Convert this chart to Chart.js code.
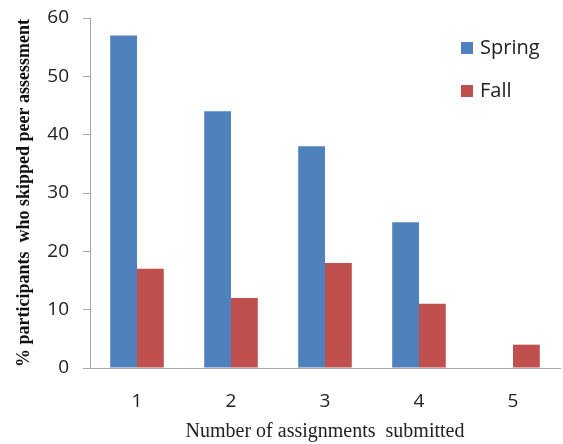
<!DOCTYPE html>
<html>
<head>
<meta charset="utf-8">
<script src="https://cdn.jsdelivr.net/npm/chart.js@4.4.0/dist/chart.umd.min.js"></script>
<style>
  html, body { margin: 0; padding: 0; background: #fff; }
  #wrap { width: 563px; height: 444px; }
</style>
</head>
<body>
<div id="wrap"><canvas id="myChart"></canvas></div>
<script>
const categories = ['1', '2', '3', '4', '5'];
const springValues = [57, 44, 38, 25, null];
const fallValues = [17, 12, 18, 11, 4];
const yTicks = [0, 10, 20, 30, 40, 50, 60];

const tickFont = { family: 'Open Sans', size: 19, lineHeight: 1 };

// legend drawn inside the plot, top right
const sideLegend = {
    id: 'sideLegend',
    afterDraw(chart) {
        const ctx = chart.ctx;
        ctx.save();
        ctx.font = '20px "Open Sans"';
        ctx.textBaseline = 'middle';
        chart.data.datasets.forEach((ds, i) => {
            const y = 48 + i * 43;
            ctx.fillStyle = ds.backgroundColor;
            ctx.fillRect(461, y - 6, 12, 12);
            ctx.fillStyle = '#222';
            ctx.fillText(ds.label, 480, y);
        });
        ctx.restore();
    }
};

const canvasContext = document.getElementById('myChart').getContext('2d');

const myChart = new Chart(canvasContext, {
    type: 'bar',
    data: {
        labels: categories,
        datasets: [
            {
                label: 'Spring',
                data: springValues,
                backgroundColor: '#4F81BD',
            },
            {
                label: 'Fall',
                data: fallValues,
                backgroundColor: '#C0504D',
            }
        ],
    },
    options: {
        responsive: true,
        maintainAspectRatio: false,
        animation: false,
        layout: { padding: { top: 18, right: 3, left: 14, bottom: 0 } },
        datasets: {
            bar: { categoryPercentage: 0.57, barPercentage: 1.0 }
        },
        plugins: {
            legend: { display: false },
            tooltip: { enabled: false }
        },
        scales: {
            x: {
                grid: { display: false },
                border: { color: '#A6A6A6', width: 1 },
                ticks: { color: '#222', font: tickFont, padding: 16 },
                title: {
                    display: true,
                    text: 'Number of assignments  submitted',
                    color: '#222',
                    font: { family: 'Liberation Serif', size: 20 },
                    padding: { top: 4, bottom: 0 }
                },
                afterFit(scale) { scale.height = 76; }
            },
            y: {
                min: 0,
                max: 60,
                afterBuildTicks(scale) {
                    scale.ticks = yTicks.map(v => ({ value: v }));
                },
                grid: {
                    drawOnChartArea: false,
                    color: '#A6A6A6',
                    tickLength: 7,
                },
                border: { color: '#A6A6A6', width: 1 },
                ticks: { color: '#222', font: tickFont, padding: 14 },
                title: {
                    display: true,
                    text: '% participants  who skipped peer assessment',
                    color: '#111',
                    font: { family: 'Liberation Serif', size: 18, weight: 'bold' },
                    padding: { top: 0, bottom: 8 }
                },
                afterFit(scale) {
                    scale.width = 76;
                    scale.paddingTop = 0;
                    scale.paddingBottom = 0;
                }
            }
        }
    },
    plugins: [sideLegend]
});
</script>
</body>
</html>
